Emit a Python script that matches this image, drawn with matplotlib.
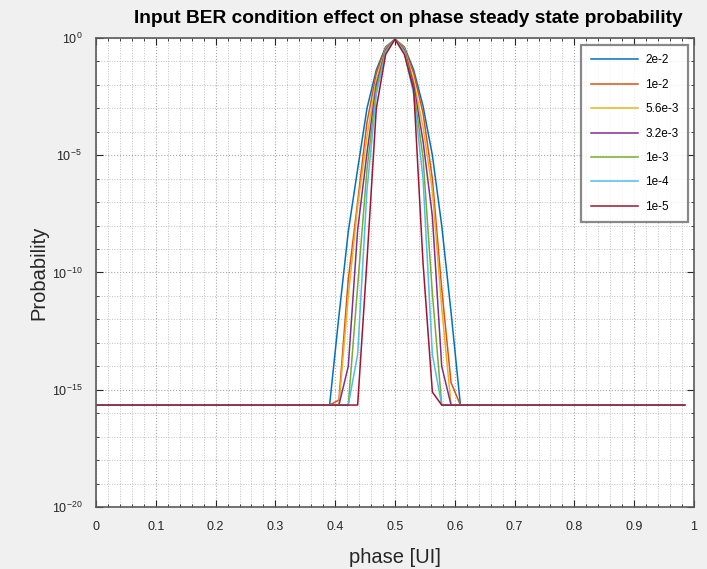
import numpy as np
import matplotlib
matplotlib.use('Agg')
import matplotlib.pyplot as plt
from matplotlib.ticker import FixedLocator, NullFormatter

# phase grid: 64 bins over one UI
phase = np.arange(64) / 64.0
eps = np.finfo(float).eps
F = np.log10(eps)  # floor of every curve

# log10(probability) around the peak, bins k = 25..39 (rest sits on the floor)
k0 = 25
ber_labels = ['2e-2', '1e-2', '5.6e-3', '3.2e-3', '1e-3', '1e-4', '1e-5']
log_2e2 = [F, -11.85, -8.25, -5.6, -3.0, -1.36, -0.38, -0.05, -0.38, -1.36, -2.9, -5.0, -8.0, -11.7, F]
log_1e2 = [F, -15.44, -10.3, -7.0, -3.6, -1.5, -0.42, -0.05, -0.42, -1.5, -3.2, -6.0, -10.7, -14.7, F]
log_56e3 = [F, F, -11.0, -7.2, -4.2, -1.8, -0.45, -0.05, -0.45, -1.8, -3.8, -6.5, -11.5, F, F]
log_32e3 = [F, F, -14.0, -8.2, -4.9, -2.0, -0.5, -0.05, -0.5, -2.0, -4.4, -7.6, -14.0, F, F]
log_1e3 = [F, F, F, -10.6, -5.6, -2.2, -0.55, -0.05, -0.55, -2.2, -5.1, -10.9, F, F, F]
log_1e4 = [F, F, F, -13.5, -6.5, -2.4, -0.6, -0.05, -0.6, -2.4, -6.0, -13.5, F, F, F]
log_1e5 = [F, F, F, F, -9.5, -3.0, -0.7, -0.05, -0.7, -2.2, -9.6, -15.1, F, F, F]
series = [log_2e2, log_1e2, log_56e3, log_32e3, log_1e3, log_1e4, log_1e5]

# matlab default line colours
colors = ['#0072BD', '#D95319', '#EDB120', '#7E2F8E', '#77AC30', '#4DBEEE', '#A2142F']

plt.rcParams['font.family'] = ['Liberation Sans', 'DejaVu Sans']

fig = plt.figure(figsize=(7.07, 5.69), dpi=100, facecolor='#F0F0F0')
ax = fig.add_axes([0.1358, 0.1090, 0.8458, 0.8242])
ax.set_facecolor('white')

for vals, lab, c in zip(series, ber_labels, colors):
    p = np.full(64, eps)
    p[k0:k0 + len(vals)] = 10.0 ** np.array(vals)
    ax.semilogy(phase, p, color=c, lw=1.1, label=lab)

ax.set_xlim(0, 1)
ax.set_ylim(1e-20, 1)

ax.xaxis.set_major_locator(FixedLocator(np.arange(0, 1.01, 0.1)))
ax.xaxis.set_minor_locator(FixedLocator(np.arange(0, 1.001, 0.02)))
ax.set_xticklabels(['0', '0.1', '0.2', '0.3', '0.4', '0.5', '0.6', '0.7', '0.8', '0.9', '1'])
ax.yaxis.set_major_locator(FixedLocator([1e-20, 1e-15, 1e-10, 1e-5, 1e0]))
ax.yaxis.set_minor_locator(FixedLocator([10.0 ** e for e in range(-20, 1)]))
ax.yaxis.set_minor_formatter(NullFormatter())
ax.set_yticklabels(['10$^{\\mathregular{-20}}$', '10$^{\\mathregular{-15}}$',
                    '10$^{\\mathregular{-10}}$', '10$^{\\mathregular{-5}}$',
                    '10$^{\\mathregular{0}}$'])

ax.tick_params(which='both', direction='in', top=True, right=True, colors='#262626',
               labelsize=9)
ax.tick_params(which='major', length=5, pad=10)
ax.tick_params(which='minor', length=2.5)

ax.grid(which='major', linestyle=':', color='#a8a8a8', lw=0.8)
ax.grid(which='minor', linestyle=':', color='#c0c0c0', lw=0.7)

for s in ax.spines.values():
    s.set_color('#5a5a5a')
    s.set_linewidth(1.2)

ax.set_title('Input BER condition effect on phase steady state probability',
             fontsize=13.8, fontweight='bold', pad=11, x=0.522)
ax.set_xlabel('phase [UI]', fontsize=14.5, color='#262626', labelpad=11)
ax.set_ylabel('Probability', fontsize=14.5, color='#262626', labelpad=2)

leg = ax.legend(loc='upper right', bbox_to_anchor=(0.99, 0.985), fontsize=8.5,
                frameon=True, fancybox=False, handlelength=4.0, labelspacing=1.05,
                borderpad=0.8, handletextpad=0.6, borderaxespad=0)
leg.get_frame().set_edgecolor('#6a6a6a')
leg.get_frame().set_linewidth(1.6)

fig.savefig('out.png', dpi=100, facecolor=fig.get_facecolor())
